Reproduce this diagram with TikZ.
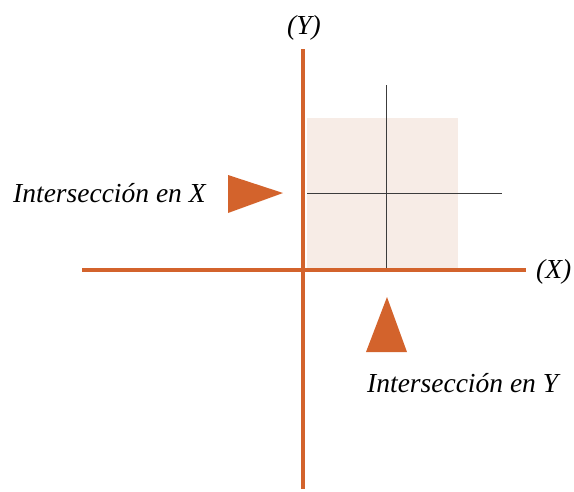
\documentclass[tikz,border=0pt]{standalone}
\usepackage{fontspec}
\setmainfont{Liberation Serif}
\definecolor{axisorange}{RGB}{211,99,44}
\definecolor{paleorange}{RGB}{247,236,230}
\definecolor{thin}{RGB}{60,60,60}
\begin{document}
\begin{tikzpicture}[x=1pt,y=-1pt,
  axis/.style={draw=axisorange,line width=4pt},
  guide/.style={draw=thin,line width=1pt},
  marker/.style={fill=axisorange},
  lbl/.style={font=\fontsize{27.5}{30}\selectfont\itshape,inner sep=0pt}]
\useasboundingbox (0,0) rectangle (574,491);
\fill[paleorange] (307,118) rectangle (458,268);
\draw[guide] (386,85) -- (386,268);
\draw[guide] (307,193) -- (502,193);
\draw[axis] (303,49) -- (303,489);
\draw[axis] (82,270) -- (526,270);
\fill[marker] (228,175) -- (283,193) -- (228,213) -- cycle;
\fill[marker] (366,352) -- (387,297) -- (407,352) -- cycle;
\node[lbl] (ylab) at (304,28) {(Y)};
\node[lbl,anchor=west] (xlab) at (536,272) {(X)};
\node[lbl,anchor=west] (ix) at (13,193) {Intersección en X};
\node[lbl,anchor=west] (iy) at (367,383) {Intersección en Y};
\end{tikzpicture}
\end{document}
